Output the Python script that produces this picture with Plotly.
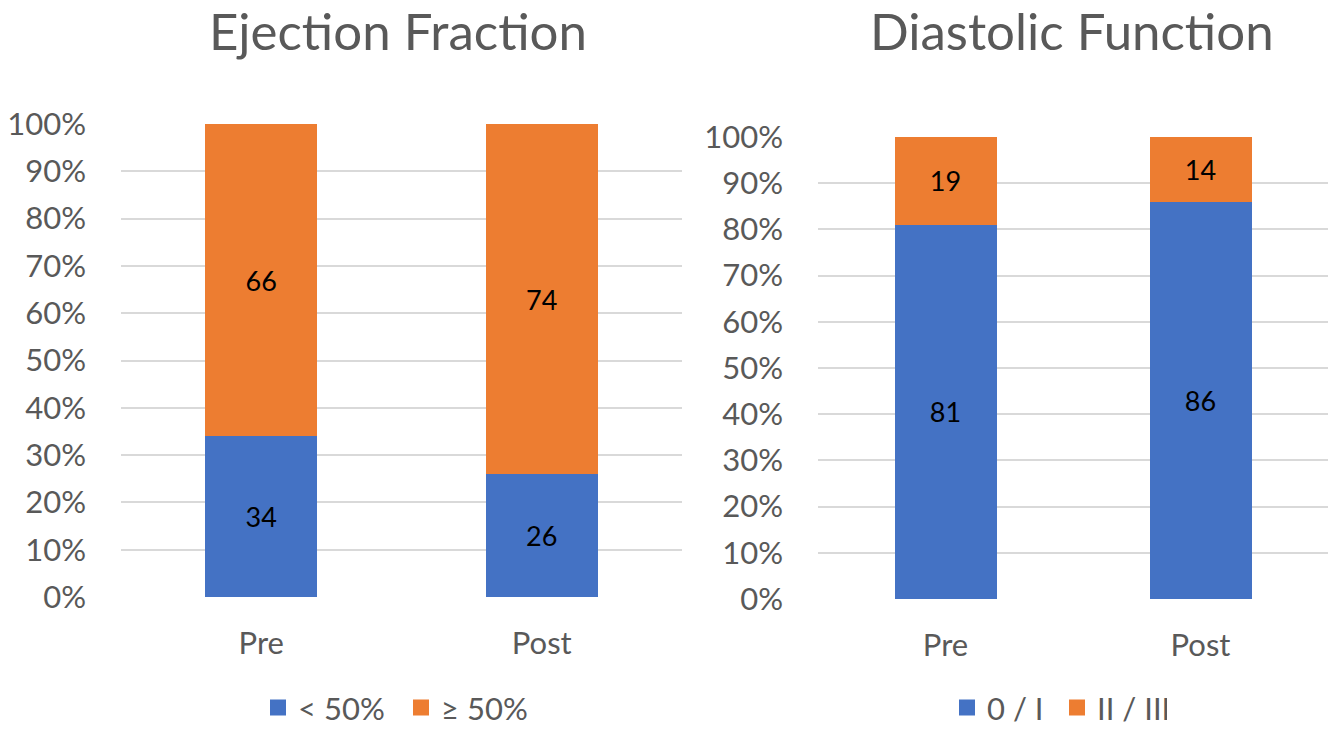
import plotly.graph_objects as go

categories = ["Pre", "Post"]
ef_low = [34, 26]
ef_high = [66, 74]
df_low = [81, 86]
df_high = [19, 14]
tick_vals = [0, 10, 20, 30, 40, 50, 60, 70, 80, 90, 100]
tick_text = [f"{v}%" for v in tick_vals]

BLUE = "#4472C4"
ORANGE = "#ED7D31"
GRAY = "#595959"
FONT = "Lato"

fig = go.Figure()

def add(x, y, name, color, xa, ya, leg, width):
    fig.add_trace(go.Bar(
        x=x, y=y, name=name, marker=dict(color=color, line=dict(width=0)),
        text=[str(v) for v in y], textposition="inside", insidetextanchor="middle",
        textangle=0, textfont=dict(color="black", size=27, family=FONT),
        xaxis=xa, yaxis=ya, showlegend=False, width=width,
    ))
    # legend entry with larger square swatch
    fig.add_trace(go.Scatter(
        x=[None], y=[None], mode="markers", name=name,
        marker=dict(symbol="square", size=20, color=color),
        xaxis=xa, yaxis=ya, legend=leg, showlegend=True,
    ))

add(categories, ef_low, "< 50%", BLUE, "x", "y", "legend", 0.4)
add(categories, ef_high, "≥ 50%", ORANGE, "x", "y", "legend", 0.4)
add(categories, df_low, "0 / I", BLUE, "x2", "y2", "legend2", 0.4)
add(categories, df_high, "II / III", ORANGE, "x2", "y2", "legend2", 0.4)

W, H = 1331, 729
axis_font = dict(family=FONT, size=31, color=GRAY)

def xd(a, b):
    return [a / W, b / W]

def yd(top, bottom):
    return [(H - bottom) / H, (H - top) / H]

common_x = dict(type="category", range=[-0.5, 1.5], showgrid=False, showline=False,
                ticks="", tickfont=axis_font, ticklabelstandoff=25)
common_y = dict(range=[0, 100], tickvals=tick_vals, ticktext=tick_text, showgrid=True,
                gridcolor="#D9D9D9", gridwidth=1.5, zeroline=False, showline=False,
                ticks="", tickfont=axis_font, ticklabelstandoff=34)

leg_common = dict(orientation="h", yanchor="bottom", xanchor="left", y=-0.008,
                  font=dict(family=FONT, size=31, color=GRAY), traceorder="normal",
                  itemwidth=30, tracegroupgap=0, bgcolor="rgba(0,0,0,0)",
                  entrywidthmode="pixels")

fig.update_layout(
    width=W, height=H,
    margin=dict(l=0, r=0, t=0, b=0, autoexpand=False),
    paper_bgcolor="white", plot_bgcolor="white",
    font=dict(family=FONT, color=GRAY),
    barmode="stack",
    xaxis=dict(domain=xd(121, 682), anchor="y", **common_x),
    yaxis=dict(domain=yd(124, 597), anchor="x", **common_y),
    xaxis2=dict(domain=xd(818, 1328), anchor="y2", **common_x),
    yaxis2=dict(domain=yd(137, 599), anchor="x2", **common_y),
    legend=dict(x=258 / W, entrywidth=98, **leg_common),
    legend2=dict(x=947 / W, entrywidth=65, **leg_common),
    showlegend=True,
    annotations=[
        dict(text="Ejection Fraction", x=398 / W, y=(H - 31) / H, xref="paper", yref="paper",
             showarrow=False, font=dict(family=FONT, size=51, color=GRAY), xanchor="center", yanchor="middle"),
        dict(text="Diastolic Function", x=1072 / W, y=(H - 31) / H, xref="paper", yref="paper",
             showarrow=False, font=dict(family=FONT, size=51, color=GRAY), xanchor="center", yanchor="middle"),
    ],
)

fig.write_html("out.html", config={"displayModeBar": False},
               post_script="document.body.style.margin='0';document.body.style.overflow='hidden';")
